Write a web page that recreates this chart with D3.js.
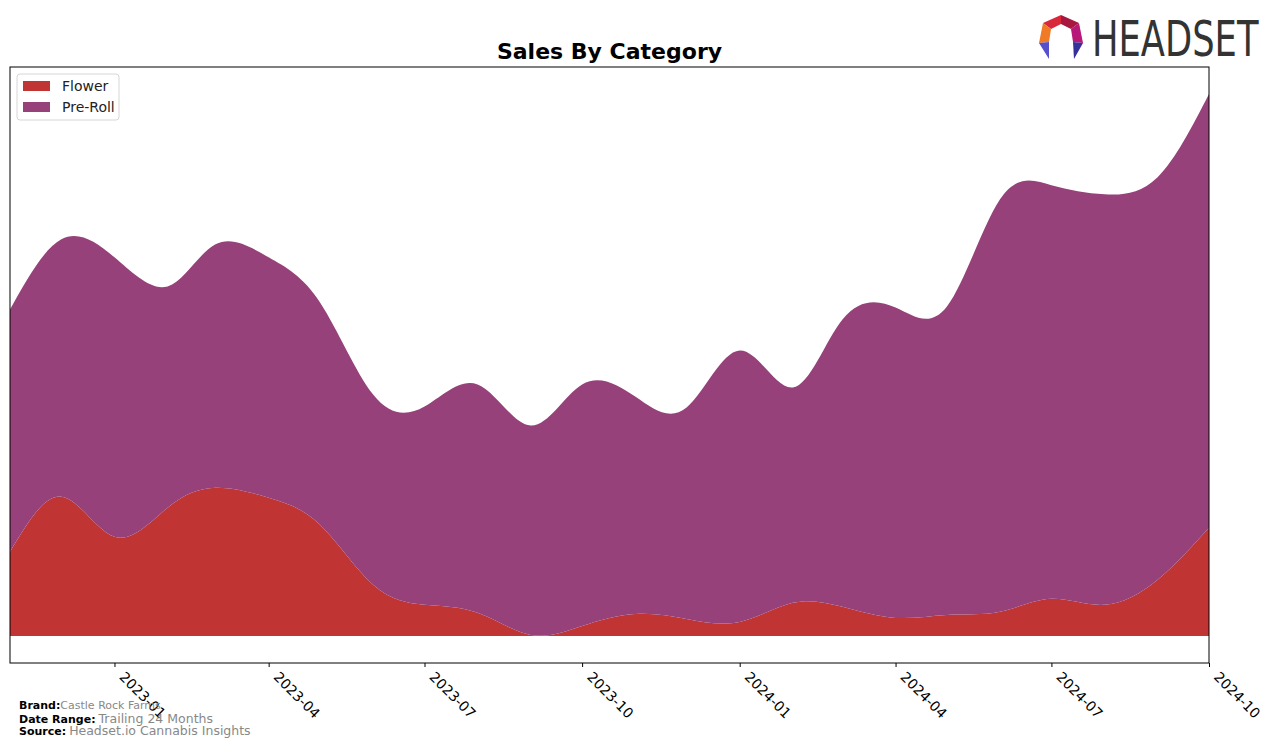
<!DOCTYPE html>
<html><head><meta charset="utf-8">
<script src="https://cdn.jsdelivr.net/npm/d3@7"></script>
<style>body{margin:0;background:#fff;}svg{display:block;font-family:"DejaVu Sans",sans-serif;}</style>
</head><body><svg id="c" width="1276" height="748"></svg>
<script>
const months = ["2022-11","2022-12","2023-01","2023-02","2023-03","2023-04","2023-05","2023-06","2023-07","2023-08","2023-09","2023-10","2023-11","2023-12","2024-01","2024-02","2024-03","2024-04","2024-05","2024-06","2024-07","2024-08","2024-09","2024-10"];
const flower = [8400,13900,9900,12800,14800,13800,11100,5100,3100,2300,100,1000,2200,1700,1400,3300,2900,1800,2100,2400,3700,3100,5600,10800];
const preRoll = [24200,25700,27900,22100,24300,24000,22200,19000,19800,22800,20900,24100,21700,21100,27100,21500,28700,31000,30800,41200,41300,41000,40200,43300];
const categories = ["Flower","Pre-Roll"];
const colors = ["#c03434","#964179"];
const tickLabels = ["2023-01","2023-04","2023-07","2023-10","2024-01","2024-04","2024-07","2024-10"];

const svg = d3.select("#c");
const L=10,R=1209,T=67,B=663;
const parse = d3.timeParse("%Y-%m");
const dates = months.map(parse);
const data = dates.map((d,i)=>({date:d,"Flower":flower[i],"Pre-Roll":preRoll[i]}));
const stack = d3.stack().keys(categories)(data);
const maxT = d3.max(data,d=>d.Flower+d["Pre-Roll"]);
const x = d3.scaleTime().domain(d3.extent(dates)).range([L,R]);
const y = d3.scaleLinear().domain([-0.05*maxT,1.05*maxT]).range([B,T]);

const area = d3.area().curve(d3.curveNatural)
  .x(d=>x(d.data.date)).y0(d=>y(d[0])).y1(d=>y(d[1]));
svg.append("defs").append("clipPath").attr("id","clip").append("rect")
  .attr("x",L).attr("y",T).attr("width",R-L).attr("height",B-T);
const g = svg.append("g").attr("clip-path","url(#clip)");
g.selectAll("path.layer").data(stack).enter().append("path")
  .attr("d",area).attr("fill",(d,i)=>colors[i]);

// axes frame
svg.append("rect").attr("x",L).attr("y",T).attr("width",R-L).attr("height",B-T)
  .attr("fill","none").attr("stroke","#000").attr("stroke-width",1);
const ax = svg.append("g").attr("transform",`translate(0,${B})`)
  .call(d3.axisBottom(x).tickValues(tickLabels.map(parse)).tickFormat(d3.timeFormat("%Y-%m")).tickSizeOuter(0).tickSize(4));
ax.select(".domain").remove();
ax.selectAll("text").attr("font-size",14).attr("font-family","DejaVu Sans").attr("fill","#000")
  .attr("text-anchor","start").attr("transform","rotate(45)").attr("x",0).attr("y",0).attr("dx",13).attr("dy",8);

// title
svg.append("text").attr("x",(L+R)/2).attr("y",59).attr("text-anchor","middle")
  .attr("font-size",22).attr("font-weight","bold").text("Sales By Category");

// legend
const lg = svg.append("g");
lg.append("rect").attr("x",17).attr("y",74).attr("width",102).attr("height",46).attr("rx",3)
  .attr("fill","#fff").attr("stroke","#d6d6d6");
categories.forEach((c,i)=>{
  lg.append("rect").attr("x",23).attr("y",81+i*21).attr("width",27).attr("height",10).attr("fill",colors[i]);
  lg.append("text").attr("x",62).attr("y",91+i*21).attr("font-size",14).attr("fill","#222").text(c);
});

// footer
const foot=[["Brand:","Castle Rock Farms",709,11],["Date Range:","Trailing 24 Months",723,12.5],["Source:","Headset.io Cannabis Insights",735,12.5]];
foot.forEach(f=>{
  const t=svg.append("text").attr("x",19).attr("y",f[2]).attr("font-size",11);
  t.append("tspan").attr("font-weight","bold").attr("fill","#000").text(f[0]);
  t.append("tspan").attr("fill","#888").attr("font-size",f[3]).attr("dx",f[0]==="Brand:"?0:3).text(f[1]);
});

// logo
const lo = svg.append("g").attr("transform","translate(1038,14)");
const P = {T:[23,1],UR:[41,9],R:[45,29],BR:[36,45],BL:[11,45],L:[1,29],UL:[5,9],iT:[23,10],iUR:[33,15],iR:[35,28],iL:[11,28],iUL:[13,15]};
const seg = (names,col)=>lo.append("polygon").attr("points",names.map(n=>P[n].join(",")).join(" ")).attr("fill",col);
seg(["UL","T","iT","iUL"],"#d8283a");
seg(["T","UR","iUR","iT"],"#a8173f");
seg(["UR","R","iR","iUR"],"#b81878");
seg(["UL","iUL","iL","L"],"#f07a26");
seg(["L","iL","BL"],"#5650cc");
seg(["iR","R","BR"],"#35309a");
lo.append("g").attr("transform","translate(54,42) scale(0.785,1)")
  .append("text").attr("x",0).attr("y",0).attr("font-family","'Liberation Sans Narrow','DejaVu Sans Condensed',sans-serif")
  .attr("font-size",50).attr("fill","#333").text("HEADSET");
</script></body></html>
